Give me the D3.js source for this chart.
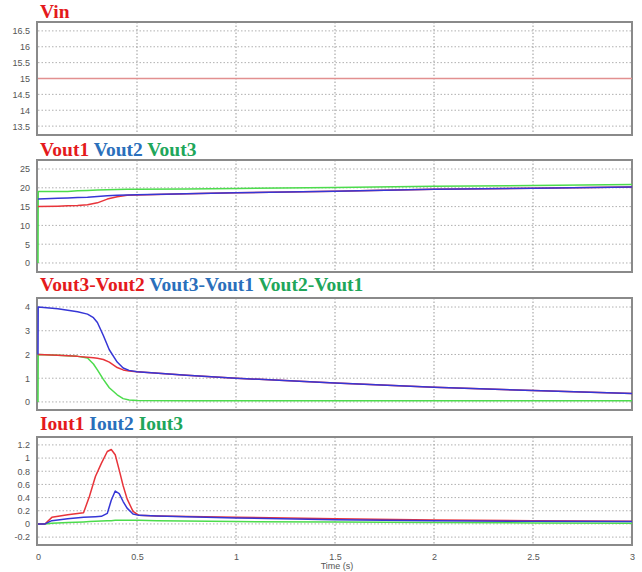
<!DOCTYPE html>
<html>
<head>
<meta charset="utf-8">
<script src="https://cdn.jsdelivr.net/npm/d3@7"></script>
<style>
  body { margin: 0; background: #fff; }
  svg { display: block; }
</style>
</head>
<body>
<div id="chart"></div>
<script>
// x ticks shared by all panels
const timeTicks = [0, 0.5, 1, 1.5, 2, 2.5, 3];

// Vin
const vinTime = [0, 3];
const vin = [15, 15];
const vinTicks = [13.5, 14, 14.5, 15, 15.5, 16, 16.5];

// Vout1..3
const voutTime = [0, 0.001, 0.1, 0.15, 0.2, 0.25, 0.3, 0.35, 0.4, 0.45, 0.5, 0.75, 1, 1.5, 2, 2.5, 3];
const vout1 = [15, 15, 15.1, 15.2, 15.3, 15.5, 16.0, 17.0, 17.6, 18.0, 18.1, 18.4, 18.7, 19.1, 19.6, 19.9, 20.2];
const vout2 = [17, 17, 17.2, 17.3, 17.4, 17.5, 17.7, 17.9, 18.0, 18.1, 18.15, 18.4, 18.7, 19.1, 19.6, 19.9, 20.2];
const vout3 = [0, 19, 19, 19.05, 19.2, 19.3, 19.4, 19.5, 19.55, 19.6, 19.6, 19.7, 19.85, 20.1, 20.4, 20.6, 20.9];
const voutTicks = [0, 5, 10, 15, 20, 25];

// differences
const diffTime = [0, 0.001, 0.1, 0.2, 0.25, 0.28, 0.3, 0.33, 0.36, 0.4, 0.43, 0.46, 0.5, 0.75, 1, 1.5, 2, 2.5, 3];
const d32 = [2, 2, 1.97, 1.92, 1.88, 1.86, 1.84, 1.79, 1.68, 1.45, 1.35, 1.3, 1.27, 1.12, 1.0, 0.8, 0.62, 0.48, 0.36];
const d31 = [2, 4, 3.93, 3.8, 3.7, 3.55, 3.35, 2.8, 2.2, 1.68, 1.43, 1.33, 1.27, 1.12, 1.0, 0.8, 0.62, 0.48, 0.36];
const d21 = [0, 2, 1.97, 1.92, 1.85, 1.6, 1.35, 0.95, 0.6, 0.3, 0.14, 0.08, 0.06, 0.05, 0.05, 0.05, 0.05, 0.05, 0.05];
const diffTicks = [0, 1, 2, 3, 4];

// currents
const iTime = [0, 0.035, 0.07, 0.15, 0.23, 0.26, 0.29, 0.32, 0.35, 0.37, 0.39, 0.41, 0.43, 0.45, 0.48, 0.51, 0.6, 1, 1.5, 2, 2.5, 3];
const iout1 = [0, 0, 0.1, 0.14, 0.17, 0.42, 0.72, 0.92, 1.1, 1.13, 1.05, 0.82, 0.58, 0.38, 0.19, 0.13, 0.12, 0.1, 0.08, 0.06, 0.05, 0.04];
const iout2 = [0, 0, 0.05, 0.08, 0.1, 0.105, 0.11, 0.115, 0.16, 0.36, 0.5, 0.46, 0.34, 0.24, 0.15, 0.13, 0.12, 0.09, 0.065, 0.05, 0.04, 0.035];
const iout3 = [0, 0, 0.01, 0.02, 0.03, 0.035, 0.04, 0.045, 0.05, 0.05, 0.055, 0.055, 0.055, 0.055, 0.055, 0.055, 0.05, 0.035, 0.03, 0.02, 0.015, 0.01];
const iTicks = [-0.2, 0, 0.2, 0.4, 0.6, 0.8, 1, 1.2];

const RED = "#e8343a", BLUE = "#3636d6", GREEN = "#4cdc4c";
const T_RED = "#e41a1c", T_BLUE = "#2a6fbb", T_GREEN = "#20a65a";

const width = 642, height = 572;
const left = 38, right = 632;

const svg = d3.select("#chart").append("svg")
    .attr("width", width)
    .attr("height", height);

const x = d3.scaleLinear().domain([0, 3]).range([left, right]);

const panels = [
    { top: 22, bottom: 135, domain: [13.22, 16.78], ticks: vinTicks, time: vinTime,
      titles: [["Vin", T_RED]], titleY: 18,
      series: [{ v: vin, c: "#e29090" }] },
    { top: 160, bottom: 272, domain: [-2.4, 27.4], ticks: voutTicks, time: voutTime,
      titles: [["Vout1", T_RED], ["Vout2", T_BLUE], ["Vout3", T_GREEN]], titleY: 156,
      series: [{ v: vout3, c: GREEN }, { v: vout1, c: RED }, { v: vout2, c: BLUE }] },
    { top: 298, bottom: 410, domain: [-0.34, 4.38], ticks: diffTicks, time: diffTime,
      titles: [["Vout3-Vout2", T_RED], ["Vout3-Vout1", T_BLUE], ["Vout2-Vout1", T_GREEN]], titleY: 291,
      series: [{ v: d21, c: GREEN }, { v: d32, c: RED }, { v: d31, c: BLUE }] },
    { top: 437, bottom: 545, domain: [-0.32, 1.32], ticks: iTicks, time: iTime,
      titles: [["Iout1", T_RED], ["Iout2", T_BLUE], ["Iout3", T_GREEN]], titleY: 430,
      series: [{ v: iout3, c: GREEN }, { v: iout1, c: RED }, { v: iout2, c: BLUE }] }
];

panels.forEach(p => {
    const y = d3.scaleLinear().domain(p.domain).range([p.bottom, p.top]);
    const g = svg.append("g");

    // horizontal grid
    g.append("g").selectAll("line")
        .data(p.ticks)
        .join("line")
        .attr("x1", left).attr("x2", right)
        .attr("y1", d => y(d)).attr("y2", d => y(d))
        .attr("stroke", "#b0b0b0")
        .attr("stroke-width", 1)
        .attr("stroke-dasharray", "1.5,2");

    // vertical grid
    g.append("g").selectAll("line")
        .data(timeTicks.slice(1, -1))
        .join("line")
        .attr("x1", d => x(d)).attr("x2", d => x(d))
        .attr("y1", p.top).attr("y2", p.bottom)
        .attr("stroke", "#999")
        .attr("stroke-width", 1)
        .attr("stroke-dasharray", "1.5,2");

    // y axis labels
    const yAxis = d3.axisLeft(y).tickValues(p.ticks).tickSize(0).tickPadding(8)
        .tickFormat(d => String(d));
    g.append("g")
        .attr("transform", `translate(${left},0)`)
        .call(yAxis)
        .call(a => a.select(".domain").remove())
        .selectAll("text")
        .attr("font-family", "Liberation Sans, Arial, sans-serif")
        .attr("font-size", 9)
        .attr("fill", "#555");

    // frame
    g.append("rect")
        .attr("x", left - 1).attr("y", p.top)
        .attr("width", right - left + 1).attr("height", p.bottom - p.top)
        .attr("fill", "none")
        .attr("stroke", "#8a8a8a")
        .attr("stroke-width", 2);

    // series
    const line = d3.line()
        .x((d, i) => x(p.time[i]))
        .y(d => y(d));
    p.series.forEach(s => {
        g.append("path")
            .datum(s.v)
            .attr("d", line)
            .attr("fill", "none")
            .attr("stroke", s.c)
            .attr("stroke-width", 1.5)
            .attr("stroke-linejoin", "round");
    });

    // title
    const title = g.append("text")
        .attr("x", 40).attr("y", p.titleY)
        .attr("font-family", "Liberation Serif, Times New Roman, serif")
        .attr("font-weight", "bold")
        .attr("font-size", 19.5);
    p.titles.forEach((t, i) => {
        title.append("tspan")
            .text((i ? " " : "") + t[0])
            .attr("fill", t[1]);
    });

    // x axis labels under last panel
    if (p === panels[panels.length - 1]) {
        const xAxis = d3.axisBottom(x).tickValues(timeTicks).tickSize(0).tickPadding(9)
            .tickFormat(d => String(d));
        g.append("g")
            .attr("transform", `translate(0,${p.bottom})`)
            .call(xAxis)
            .call(a => a.select(".domain").remove())
            .selectAll("text")
            .attr("font-family", "Liberation Sans, Arial, sans-serif")
            .attr("font-size", 9)
            .attr("fill", "#555");
        g.append("text")
            .attr("x", (left + right) / 2 + 2)
            .attr("y", 569)
            .attr("text-anchor", "middle")
            .attr("font-family", "Liberation Sans, Arial, sans-serif")
            .attr("font-size", 9)
            .attr("fill", "#555")
            .text("Time (s)");
    }
});
</script>
</body>
</html>
